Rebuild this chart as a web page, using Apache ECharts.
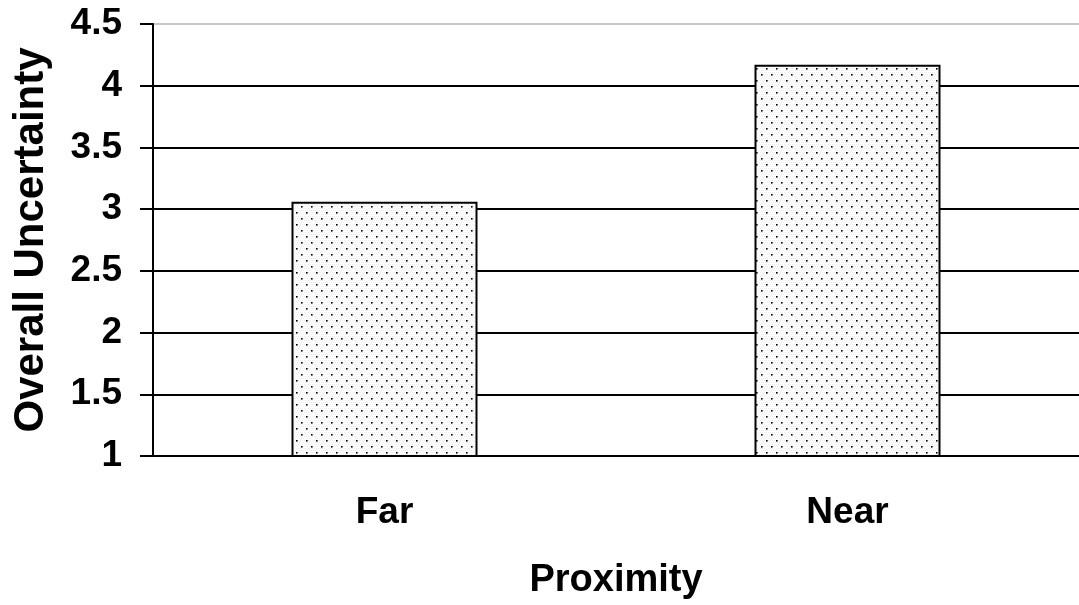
<!DOCTYPE html>
<html>
<head>
<meta charset="utf-8">
<style>
  html, body { margin: 0; padding: 0; background: #fff; overflow: hidden; }
  #chart { width: 1079px; height: 605px; }
</style>
<script src="https://cdn.jsdelivr.net/npm/echarts@6/dist/echarts.min.js"></script>
</head>
<body>
<div id="chart"></div>
<script>
// Mean overall uncertainty by proximity condition
const categories = ['Far', 'Near'];
const uncertainty = [3.06, 4.17];
const yTicks = [1, 1.5, 2, 2.5, 3, 3.5, 4, 4.5];

// Stippled fill for the bars: alternating rows of fine black dots on a pale ground
function dotPattern() {
  const c = document.createElement('canvas');
  c.width = 10; c.height = 12;
  const g = c.getContext('2d');
  g.fillStyle = '#ffffff';
  g.fillRect(0, 0, 10, 12);
  g.fillStyle = '#eeeeee';
  for (let y = 0; y < 12; y += 2) {
    for (let x = (y / 2) % 2; x < 10; x += 2) g.fillRect(x, y, 1, 1);
  }
  g.fillStyle = '#000000';
  g.fillRect(1, 2, 1.6, 1.6);
  g.fillRect(6, 8, 1.6, 1.6);
  return c;
}

const font = '"Liberation Sans", Arial, sans-serif';
const chart = echarts.init(document.getElementById('chart'), null, { renderer: 'canvas' });

// The top gridline is drawn light grey, all others black
const splitColors = yTicks.map((t, i) => i === yTicks.length - 1 ? '#c8c8c8' : '#000000');

chart.setOption({
  animation: false,
  backgroundColor: '#ffffff',
  grid: { left: 153, width: 936, top: 24, bottom: 138, containLabel: false },
  xAxis: {
    type: 'category',
    data: categories,
    name: 'Proximity',
    nameLocation: 'middle',
    nameGap: 106,
    nameTextStyle: { fontFamily: font, fontWeight: 'bold', fontSize: 38, color: '#000' },
    axisLine: { lineStyle: { color: '#000', width: 2 } },
    axisTick: { show: false },
    axisLabel: { fontFamily: font, fontWeight: 'bold', fontSize: 37, color: '#000', margin: 38 }
  },
  yAxis: {
    type: 'value',
    min: 1,
    max: 4.5,
    interval: 0.5,
    name: 'Overall Uncertainty',
    nameLocation: 'middle',
    nameGap: 101,
    nameTextStyle: { fontFamily: font, fontWeight: 'bold', fontSize: 42, color: '#000' },
    axisLine: { show: true, lineStyle: { color: '#000', width: 2 } },
    axisTick: { show: true, inside: false, length: 13, lineStyle: { color: '#000', width: 2 } },
    axisLabel: { fontFamily: font, fontWeight: 'bold', fontSize: 37, color: '#000', margin: 31 },
    splitLine: { show: true, lineStyle: { color: splitColors, width: 2 } }
  },
  series: [{
    type: 'bar',
    data: uncertainty,
    barWidth: 186,
    itemStyle: {
      color: { image: dotPattern(), repeat: 'repeat' },
      borderColor: '#000',
      borderWidth: 2
    }
  }]
});
</script>
</body>
</html>
